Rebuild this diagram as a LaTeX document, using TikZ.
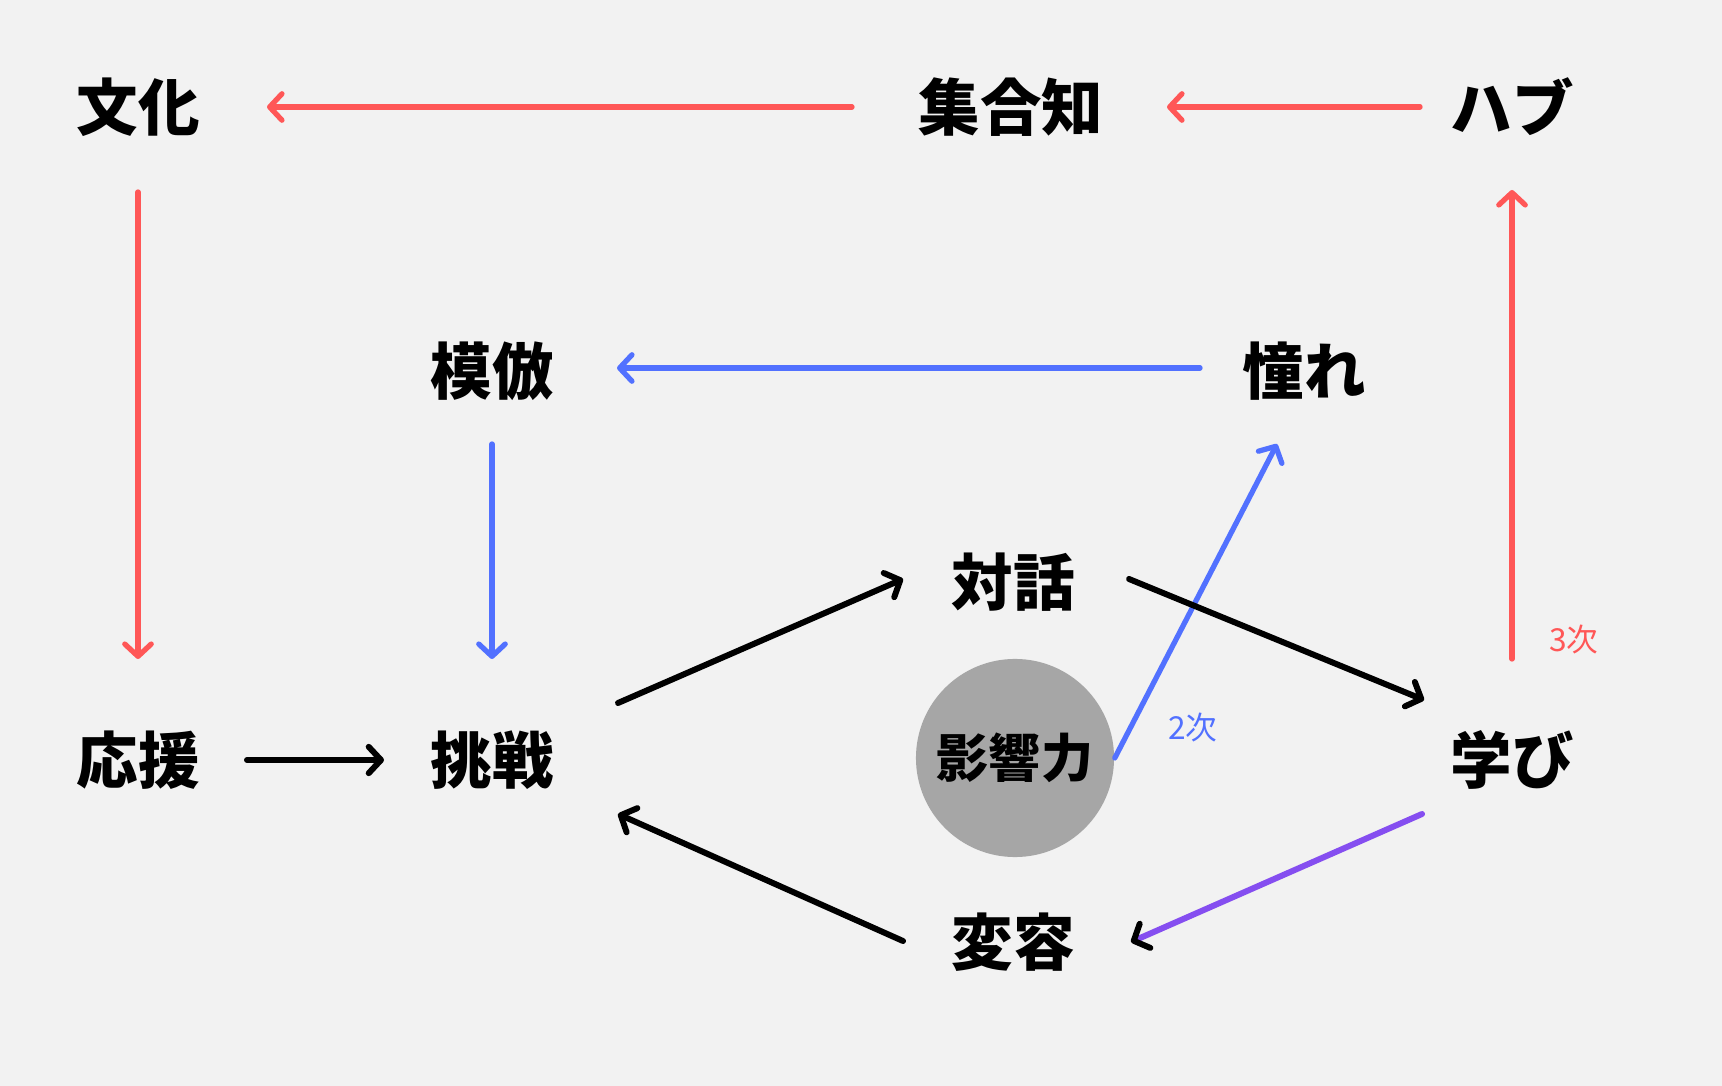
\documentclass[tikz,border=0pt]{standalone}
\usepackage{fontspec}
\usepackage{tikz}
\usetikzlibrary{arrows.meta}
\newfontfamily\jp{Noto Sans CJK JP}
\definecolor{bgcol}{RGB}{242,242,242}
\definecolor{redline}{RGB}{255,87,87}
\definecolor{blueline}{RGB}{82,113,255}
\definecolor{purpleline}{RGB}{133,78,240}
\definecolor{circfill}{RGB}{166,166,166}
\tikzset{
	word/.style={font=\jp\bfseries\fontsize{17.5}{20}\selectfont, inner sep=0},
	tag/.style={font=\jp\fontsize{9}{11}\selectfont, inner sep=0},
	arr/.style={line width=1.5pt, line cap=round, -{Straight Barb[length=3.5pt,width=7.5pt,round]}},
	redarr/.style={arr, color=redline},
	bluearr/.style={arr, color=blueline},
	blackarr/.style={arr, line width=1.7pt, color=black},
	purplearr/.style={line width=1.7pt, line cap=round, color=purpleline, -{Straight Barb[length=3.5pt,width=7.5pt,round,color=black]}}
}

\begin{document}
\begin{tikzpicture}[x=0.01cm, y=-0.01cm]
			%%%%% START %%%%%
			
			\fill[bgcol] (0, 0) rectangle (1722, 1086);
			\useasboundingbox (0, 0) rectangle (1722, 1086);
			
			\node[circle, fill=circfill, minimum size=1.98cm, inner sep=0, font=\jp\bfseries\fontsize{14.8}{17}\selectfont] (eikyou) at (1015, 758) {影響力};
			
			\node[word] (bunka) at (138, 107) {文化};
			\node[word] (shugochi) at (1011, 107) {集合知};
			\node[word] (hub) at (1512, 107) {ハブ};
			\node[word] (mohou) at (492, 371) {模倣};
			\node[word] (akogare) at (1304, 371) {憧れ};
			\node[word] (taiwa) at (1013, 582) {対話};
			\node[word] (ouen) at (138, 760) {応援};
			\node[word] (chousen) at (492, 760) {挑戦};
			\node[word] (manabi) at (1512, 760) {学び};
			\node[word] (henyou) at (1013, 942) {変容};
			
			\node[tag, color=blueline] (niji) at (1193, 728) {2次};
			\node[tag, color=redline] (sanji) at (1574, 640) {3次};
			
			% outer red loop
			\draw[redarr] ([shift={(-159, 0)}]shugochi.center) -- ([shift={(129, 0)}]bunka.center);
			\draw[redarr] ([shift={(-92, 0)}]hub.center) -- ([shift={(156, 0)}]shugochi.center);
			\draw[redarr] ([shift={(0, 85)}]bunka.center) -- ([shift={(0, -101)}]ouen.center);
			\draw[redarr] ([shift={(0, -101)}]manabi.center) -- ([shift={(0, 83)}]hub.center);
			
			% blue loop
			\draw[bluearr] ([shift={(-104, -3)}]akogare.center) -- ([shift={(125, -3)}]mohou.center);
			\draw[bluearr] ([shift={(0, 73)}]mohou.center) -- ([shift={(0, -101)}]chousen.center);
			\draw[bluearr] (eikyou.east) -- ([shift={(-27, 73)}]akogare.center);
			
			% inner black loop
			\draw[blackarr] ([shift={(109, 0)}]ouen.center) -- ([shift={(-108, 0)}]chousen.center);
			\draw[blackarr] ([shift={(126, -57)}]chousen.center) -- ([shift={(-110, -3)}]taiwa.center);
			\draw[blackarr] ([shift={(116, -3)}]taiwa.center) -- ([shift={(-88, -60)}]manabi.center);
			\draw[purplearr] ([shift={(-90, 54)}]manabi.center) -- ([shift={(118, 0)}]henyou.center);
			\draw[blackarr] ([shift={(-110, -1)}]henyou.center) -- ([shift={(126, 54)}]chousen.center);
			
			%%%%% END %%%%%
		\end{tikzpicture}
\end{document}
